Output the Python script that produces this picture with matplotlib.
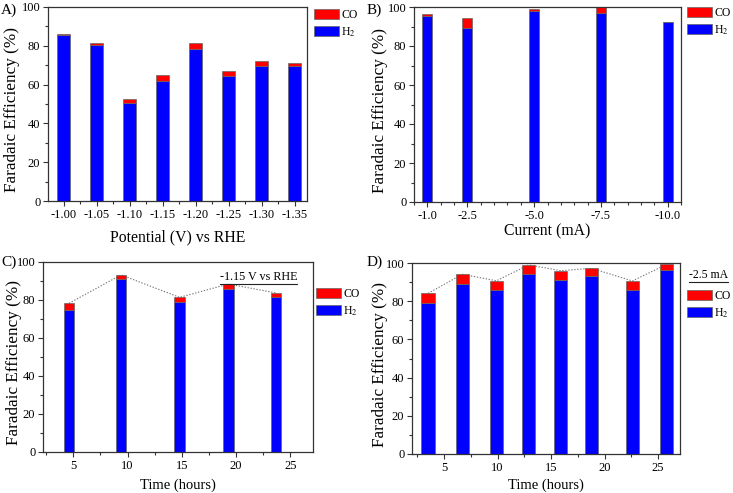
import matplotlib
matplotlib.use("Agg")
import matplotlib.pyplot as plt
import numpy as np
from matplotlib.ticker import MultipleLocator, FixedLocator

plt.rcParams['font.family'] = ['Liberation Serif', 'DejaVu Serif']
plt.rcParams['mathtext.fontset'] = 'stix'

# ---- Data ----
# Panel A: potential
potential_labels = ['-1.00', '-1.05', '-1.10', '-1.15', '-1.20', '-1.25', '-1.30', '-1.35']
a_h2 = [85.5, 80.4, 50.7, 61.9, 78.2, 64.4, 69.4, 69.7]
a_co = [0.7, 1.0, 2.0, 3.2, 3.1, 2.8, 2.8, 1.6]

# Panel B: current
current_vals = [1.0, 2.5, 5.0, 7.5, 10.0]
current_labels = ['-1.0', '-2.5', '-5.0', '-7.5', '-10.0']
b_h2 = [95.2, 89.2, 97.9, 97.1, 92.2]
b_co = [1.2, 5.0, 1.1, 3.0, 0.3]

# Panel C: time at -1.15 V
c_time = [4.6, 9.4, 14.8, 19.3, 23.7]
c_h2 = [74.7, 91.1, 78.8, 86.0, 81.7]
c_co = [3.6, 2.1, 2.6, 2.4, 2.0]

# Panel D: time at -2.5 mA
d_time = [3.5, 6.7, 9.9, 12.9, 15.9, 18.8, 22.6, 25.8]
d_h2 = [79.1, 89.0, 86.0, 94.1, 91.1, 93.0, 86.0, 96.2]
d_co = [5.0, 5.1, 4.7, 4.9, 4.9, 4.2, 4.6, 3.1]

time_ticks = [5, 10, 15, 20, 25]

RED = '#ff0000'
BLUE = '#0000ff'
EDGE = '#666666'

W, H = 733, 493
fig = plt.figure(figsize=(W / 100, H / 100), dpi=100)


def ax_at(l, r, t, b):
    return fig.add_axes([l / W, 1 - b / H, (r - l) / W, (b - t) / H])


def style(ax, label_x, label_y):
    for s in ax.spines.values():
        s.set_linewidth(0.9)
        s.set_color('#333333')
    ax.set_ylim(0, 100)
    ax.yaxis.set_major_locator(MultipleLocator(20))
    ax.yaxis.set_minor_locator(MultipleLocator(10))
    ax.tick_params(which='both', direction='out', top=False, right=False,
                   labelsize=9, width=0.8, color='#333333', pad=2)
    ax.tick_params(which='major', length=3.5)
    ax.tick_params(which='minor', length=2)
    ax.set_ylabel('Faradaic Efficiency (%)', fontsize=12.3)
    ax.yaxis.set_label_coords(label_x, label_y)


def stacked(ax, x, h2, co, width):
    h2 = np.array(h2)
    co = np.array(co)
    ax.bar(x, h2, width, color=BLUE, edgecolor=EDGE, linewidth=0.5, label='H$_2$', zorder=2)
    ax.bar(x, co, width, bottom=h2, color=RED, edgecolor=EDGE, linewidth=0.5, label='CO', zorder=2)


def legend(ax, x, y):
    handles, labels = ax.get_legend_handles_labels()
    ax.legend(handles[::-1], labels[::-1], loc='upper left',
              bbox_to_anchor=(x / W, 1 - y / H), bbox_transform=fig.transFigure,
              frameon=False, fontsize=8.5, handlelength=2.1, handleheight=0.85,
              handletextpad=0.2, labelspacing=0.35, borderpad=0, borderaxespad=0)


# Panel A
axA = ax_at(48, 307, 7, 201)
xA = np.arange(len(potential_labels))
stacked(axA, xA, a_h2, a_co, 0.4)
style(axA, -0.108, 0.47)
axA.set_xlim(-0.47, 7.37)
axA.set_xticks(xA)
axA.set_xticklabels(potential_labels)
axA.xaxis.set_minor_locator(FixedLocator(np.arange(-0.5, 7.6, 0.5)))
axA.set_xlabel('Potential (V) vs RHE', fontsize=11.3, labelpad=6)
legend(axA, 314, 9)
fig.text(1 / W, 1 - 10 / H, 'A)', fontsize=11, va='center', ha='left')

# Panel B
axB = ax_at(414, 681, 7, 202)
stacked(axB, current_vals, b_h2, b_co, 0.38)
style(axB, -0.098, 0.47)
axB.set_xlim(0.5, 10.5)
axB.set_xticks(current_vals)
axB.set_xticklabels(current_labels)
axB.xaxis.set_minor_locator(MultipleLocator(0.5))
axB.set_xlabel('Current (mA)', fontsize=11.3, labelpad=1)
legend(axB, 687, 7)
fig.text(367 / W, 1 - 10 / H, 'B)', fontsize=11, va='center', ha='left')

# Panel C
axC = ax_at(43, 313, 262, 452)
stacked(axC, c_time, c_h2, c_co, 0.95)
axC.plot(c_time, np.array(c_h2) + np.array(c_co), ls=(0, (1.2, 1.5)), color='#777777',
         lw=0.8, zorder=1)
style(axC, -0.078, 0.47)
axC.set_xlim(2.2, 27.1)
axC.set_xticks(time_ticks)
axC.xaxis.set_minor_locator(MultipleLocator(2.5))
axC.set_xlabel('Time (hours)', fontsize=10.5, labelpad=5)
legend(axC, 316, 288)
fig.text(1 / W, 1 - 262 / H, 'C)', fontsize=11, va='center', ha='left')
tC = axC.text(0.655, 0.905, '-1.15 V vs RHE', transform=axC.transAxes, fontsize=8.7,
              ha='left', va='baseline')

# Panel D
axD = ax_at(412, 680, 263, 454)
stacked(axD, d_time, d_h2, d_co, 1.25)
axD.plot(d_time, np.array(d_h2) + np.array(d_co), ls=(0, (1.2, 1.5)), color='#777777',
         lw=0.8, zorder=1)
style(axD, -0.088, 0.47)
axD.set_xlim(2.0, 27.05)
axD.set_xticks(time_ticks)
axD.xaxis.set_minor_locator(MultipleLocator(2.5))
axD.set_xlabel('Time (hours)', fontsize=10.5, labelpad=3.5)
legend(axD, 687, 290)
fig.text(367 / W, 1 - 262 / H, 'D)', fontsize=11, va='center', ha='left')
tD = fig.text(689 / W, 1 - 278 / H, '-2.5 mA', fontsize=8.5, ha='left', va='baseline')

# underline annotations
fig.canvas.draw()
r = fig.canvas.get_renderer()
for t in (tC, tD):
    bb = t.get_window_extent(r)
    y = bb.y0 - 1.0
    fig.add_artist(plt.Line2D([bb.x0 / W, bb.x1 / W], [y / H, y / H],
                              transform=fig.transFigure, color='#222222', lw=0.8))

fig.savefig('out.png', dpi=100)
